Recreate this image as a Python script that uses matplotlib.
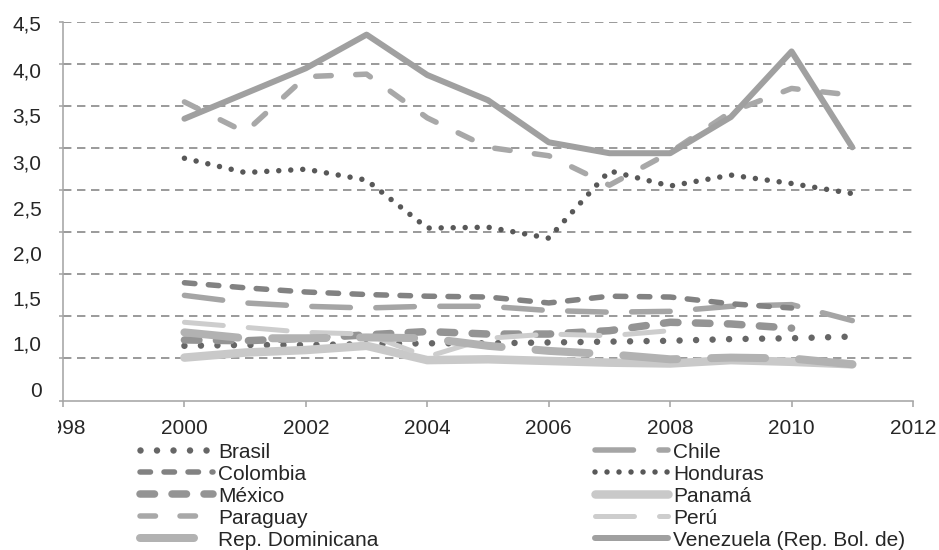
import matplotlib
matplotlib.use("Agg")
import matplotlib.pyplot as plt
from matplotlib.transforms import Bbox, TransformedBbox

plt.rcParams['font.family'] = ['Liberation Sans', 'DejaVu Sans']

# ---------------- data ----------------
years_all = list(range(2000, 2012))
years_to_2010 = list(range(2000, 2011))
years_to_2008 = list(range(2000, 2009))

brasil = [0.65, 0.66, 0.66, 0.67, 0.68, 0.68, 0.69, 0.70, 0.71, 0.73, 0.74, 0.76]
chile = [1.25, 1.16, 1.12, 1.10, 1.12, 1.12, 1.07, 1.05, 1.06, 1.12, 1.14, 0.95]
colombia = [1.40, 1.34, 1.29, 1.26, 1.24, 1.23, 1.16, 1.24, 1.23, 1.15, 1.10]
honduras = [2.88, 2.71, 2.75, 2.62, 2.05, 2.06, 1.93, 2.73, 2.55, 2.68, 2.58, 2.46]
mexico = [0.72, 0.71, 0.74, 0.78, 0.82, 0.79, 0.79, 0.83, 0.93, 0.91, 0.86]
panama = [0.51, 0.57, 0.60, 0.65, 0.48, 0.49, 0.47, 0.45, 0.44, 0.48, 0.46, 0.43]
paraguay = [3.55, 3.19, 3.85, 3.88, 3.36, 3.01, 2.91, 2.56, 2.95, 3.43, 3.71, 3.63]
peru = [0.93, 0.87, 0.81, 0.79, 0.52, 0.74, 0.79, 0.77, 0.83]
rep_dominicana = [0.81, 0.74, 0.74, 0.75, 0.74, 0.65, 0.59, 0.55, 0.49, 0.51, 0.50, 0.43]
venezuela = [3.35, 3.65, 3.95, 4.35, 3.87, 3.57, 3.07, 2.94, 2.94, 3.37, 4.15, 3.01]

names = ["Brasil", "Chile", "Colombia", "Honduras", "México", "Panamá",
         "Paraguay", "Perú", "Rep. Dominicana", "Venezuela (Rep. Bol. de)"]

x_ticks = [1998, 2000, 2002, 2004, 2006, 2008, 2010, 2012]
x_tick_labels = ["1998", "2000", "2002", "2004", "2006", "2008", "2010", "2012"]
y_grid = [0.5, 1.0, 1.5, 2.0, 2.5, 3.0, 3.5, 4.0, 4.5]
y_tick_labels = ["4,5", "4,0", "3,5", "3,0", "2,5", "2,0", "1,5", "1,0", "0"]

# ---------------- styles ----------------
PX = 0.72  # points per pixel at dpi 100
def dots(spacing_px, lw_px):
    return (0, (0.001, spacing_px / lw_px))
def dash(vis_px, gap_px, lw_px):
    return (0, ((vis_px - lw_px) / lw_px, (gap_px + lw_px) / lw_px))

styles = {
    "Brasil": dict(color="#666666", lw=6.5, ls=dots(16.5, 6.5)),
    "Chile": dict(color="#a5a5a5", lw=5.5, ls=dash(44, 20, 5.5)),
    "Colombia": dict(color="#828282", lw=5.5, ls=dash(16, 8, 5.5)),
    "Honduras": dict(color="#585858", lw=5.5, ls=dots(12, 5.5)),
    "México": dict(color="#949494", lw=7.5, ls=dash(22, 10, 7.5)),
    "Panamá": dict(color="#c9c9c9", lw=8.5, ls="-"),
    "Paraguay": dict(color="#a8a8a8", lw=5.5, ls=dash(21, 19, 5.5)),
    "Perú": dict(color="#cdcdcd", lw=5.0, ls=dash(44, 20, 5.0)),
    "Rep. Dominicana": dict(color="#b2b2b2", lw=8.0, ls=dash(62, 26, 8.0)),
    "Venezuela (Rep. Bol. de)": dict(color="#a0a0a0", lw=6.0, ls="-"),
}

series = {
    "Brasil": (years_all, brasil),
    "Chile": (years_all, chile),
    "Colombia": (years_to_2010, colombia),
    "Honduras": (years_all, honduras),
    "México": (years_to_2010, mexico),
    "Panamá": (years_all, panama),
    "Paraguay": (years_all, paraguay),
    "Perú": (years_to_2008, peru),
    "Rep. Dominicana": (years_all, rep_dominicana),
    "Venezuela (Rep. Bol. de)": (years_all, venezuela),
}

W, H = 939, 550
fig = plt.figure(figsize=(W / 100, H / 100), dpi=100)
ax = fig.add_axes([63 / W, (H - 400.5) / H, (913 - 63) / W, (400.5 - 22) / H])

lines = {}
for i, name in enumerate(names):
    xs, ys = series[name]
    st = styles[name]
    ln, = ax.plot(xs, ys, color=st["color"], lw=st["lw"] * PX, linestyle=st["ls"],
                  dash_capstyle="round", solid_capstyle="round",
                  dash_joinstyle="round", solid_joinstyle="round",
                  label=name, zorder=3 + i)
    lines[name] = ln

ax.set_xlim(1998, 2012)
ax.set_ylim(0, 4.5)

# gridlines
for g in y_grid:
    ax.axhline(g, color="#9c9c9c", lw=2 * PX, linestyle=(0, (4.2, 2.8)), zorder=1)

for s in ["top", "right"]:
    ax.spines[s].set_visible(False)
for s in ["left", "bottom"]:
    ax.spines[s].set_color("#a6a6a6")
    ax.spines[s].set_linewidth(1.6 * PX)

FS = 15
# y: major ticks on gridlines (no labels), labels as minor ticks at their drawn places
ax.set_yticks([0] + y_grid)
ax.set_yticklabels([""] * (len(y_grid) + 1))
ax.tick_params(axis="y", which="major", length=3, width=1.6 * PX, color="#a6a6a6",
               direction="out")
label_pos = [(400.5 - p) / 84.0 for p in [23, 70, 115, 162, 208, 253, 298, 343, 390]]
ax.set_yticks(label_pos, minor=True)
ax.set_yticklabels(y_tick_labels, minor=True)
ax.tick_params(axis="y", which="minor", length=0, pad=15.5, labelsize=FS,
               labelcolor="#262626")

ax.set_xticks(x_ticks)
ax.set_xticklabels(x_tick_labels)
ax.tick_params(axis="x", length=4, width=1.6 * PX, color="#a6a6a6", pad=9,
               labelsize=FS, labelcolor="#262626")

# clip the first x label like the reference (cut at the left)
first = ax.xaxis.get_major_ticks()[0].label1
first.set_clip_on(True)
first.set_clip_box(TransformedBbox(Bbox([[58 / W, 0], [1, 1]]), fig.transFigure))

# legends
left_names = ["Brasil", "Colombia", "México", "Paraguay", "Rep. Dominicana"]
right_names = ["Chile", "Honduras", "Panamá", "Perú", "Venezuela (Rep. Bol. de)"]
common = dict(frameon=False, borderpad=0, borderaxespad=0, handlelength=73 / (FS / 0.72),
              handletextpad=0.25, labelspacing=0.145, fontsize=FS, loc="upper left",
              bbox_transform=fig.transFigure, labelcolor="#262626")
leg1 = ax.legend(handles=[lines[n] for n in left_names], labels=left_names,
                 bbox_to_anchor=(140 / W, (H - 442.5) / H), **common)
ax.add_artist(leg1)
leg2 = ax.legend(handles=[lines[n] for n in right_names], labels=right_names,
                 bbox_to_anchor=(595 / W, (H - 442.5) / H), **common)

fig.savefig("out.png", dpi=100)
